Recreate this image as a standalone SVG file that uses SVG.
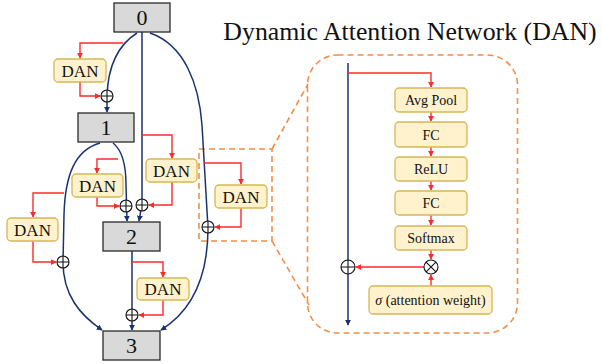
<svg xmlns="http://www.w3.org/2000/svg" width="602" height="364" viewBox="0 0 602 364">
  <style>
    text { font-family: "Liberation Serif", "Times New Roman", serif; fill: #111; text-anchor: middle; }
    .node rect { fill: #d9d9d9; stroke: #2a2a2a; stroke-width: 1.3; }
    .node text { font-size: 22px; }
    .dan rect { fill: #fff2cc; stroke: #d6b656; stroke-width: 1.3; }
    .dan text { font-size: 17px; }
    .blk rect { fill: #fff2cc; stroke: #d6b656; stroke-width: 1.3; }
    .blk text { font-size: 14px; }
    .main { fill: none; stroke: #1a3370; stroke-width: 1.5; }
    .att { fill: none; stroke: #ff2a2a; stroke-width: 1.4; }
    .op { fill: #fff; stroke: #111; stroke-width: 1.1; }
    .zoom { fill: none; stroke: #f0904a; stroke-width: 1.6; stroke-dasharray: 6 4; }
  </style>
  <defs>
    <marker id="arN" viewBox="0 0 8 8" refX="7" refY="4" markerWidth="6" markerHeight="6" orient="auto" markerUnits="userSpaceOnUse">
      <path d="M0,0 L8,4 L0,8 z" fill="#1a3370"/>
    </marker>
    <marker id="arR" viewBox="0 0 8 8" refX="7" refY="4" markerWidth="6" markerHeight="6" orient="auto" markerUnits="userSpaceOnUse">
      <path d="M0,0 L8,4 L0,8 z" fill="#ff2a2a"/>
    </marker>
    <g id="plus">
      <circle class="op" r="6"/>
      <path class="op" d="M-6,0 H6 M0,-6 V6"/>
    </g>
    <g id="plusL">
      <circle class="op" r="7"/>
      <path class="op" d="M-7,0 H7 M0,-7 V7"/>
    </g>
    <g id="times">
      <circle class="op" r="7"/>
      <path class="op" d="M-4.9,-4.9 L4.9,4.9 M-4.9,4.9 L4.9,-4.9"/>
    </g>
  </defs>

  <text x="410" y="40" style="font-size:25.8px">Dynamic Attention Network (DAN)</text>

  <!-- zoom-in outline -->
  <g id="zoom-outline">
    <rect class="zoom" x="199" y="149" width="73" height="92"/>
    <rect class="zoom" x="307.5" y="55" width="210" height="278" rx="30"/>
    <path class="zoom" d="M272,149 L308,84 M272,241 L309,305"/>
  </g>

  <!-- connectors -->
  <g id="connectors">
    <!-- backbone paths -->
    <path class="main" d="M137,33 C118,45 108,65 107,96 L107,112" marker-end="url(#arN)"/>
    <path class="main" d="M142,32 L142,204 L139,221" marker-end="url(#arN)"/>
    <path class="main" d="M150,33 C185,45 199,85 202,125 L208,228 C208,280 190,312 161,330" marker-end="url(#arN)"/>
    <path class="main" d="M100,143 C75,150 65,175 64,215 L63,262 C63,295 80,315 102,330" marker-end="url(#arN)"/>
    <path class="main" d="M113,143 C122,150 126,165 126,185 L127,221" marker-end="url(#arN)"/>
    <path class="main" d="M132,251 L132,330" marker-end="url(#arN)"/>

    <!-- attention branches -->
    <path class="att" d="M123,43 L80,43 L80,58" marker-end="url(#arR)"/>
    <path class="att" d="M80,82 L80,96 L100,96" marker-end="url(#arR)"/>
    <path class="att" d="M118,159 L97,159 L97,173" marker-end="url(#arR)"/>
    <path class="att" d="M97,197 L97,206 L119,206" marker-end="url(#arR)"/>
    <path class="att" d="M142,135 L172,135 L172,158" marker-end="url(#arR)"/>
    <path class="att" d="M172,182 L172,205 L149,205" marker-end="url(#arR)"/>
    <path class="att" d="M64,193 L33,193 L33,217" marker-end="url(#arR)"/>
    <path class="att" d="M33,241 L33,262 L56,262" marker-end="url(#arR)"/>
    <path class="att" d="M132,262 L163,262 L163,277" marker-end="url(#arR)"/>
    <path class="att" d="M163,300 L163,315 L139,315" marker-end="url(#arR)"/>
    <path class="att" d="M204,163 L241,163 L241,184" marker-end="url(#arR)"/>
    <path class="att" d="M241,208 L241,227 L215,227" marker-end="url(#arR)"/>

    <!-- DAN internals -->
    <path class="main" d="M348,63 L348,325" marker-end="url(#arN)"/>
    <path class="att" d="M348,73 L431,73 L431,87" marker-end="url(#arR)"/>
    <path class="att" d="M431,112 L431,121" marker-end="url(#arR)"/>
    <path class="att" d="M431,147 L431,156" marker-end="url(#arR)"/>
    <path class="att" d="M431,181 L431,190" marker-end="url(#arR)"/>
    <path class="att" d="M431,215 L431,225" marker-end="url(#arR)"/>
    <path class="att" d="M431,250 L431,259" marker-end="url(#arR)"/>
    <path class="att" d="M431,286 L431,275" marker-end="url(#arR)"/>
    <path class="att" d="M424,267 L356,267" marker-end="url(#arR)"/>

    <!-- merge operators -->
    <use href="#plus" x="107" y="96"/>
    <use href="#plus" x="126" y="206"/>
    <use href="#plus" x="142" y="205"/>
    <use href="#plus" x="63" y="262"/>
    <use href="#plus" x="132" y="315"/>
    <use href="#plus" x="208" y="227"/>
    <use href="#plusL" x="348" y="267"/>
    <use href="#times" x="431" y="267"/>
  </g>

  <!-- feature nodes -->
  <g id="node0" class="node"><rect x="114" y="3" width="56" height="29"/><text x="142" y="25">0</text></g>
  <g id="node1" class="node"><rect x="78" y="113" width="56" height="29"/><text x="106" y="135">1</text></g>
  <g id="node2" class="node"><rect x="103" y="222" width="57" height="29"/><text x="131.5" y="244">2</text></g>
  <g id="node3" class="node"><rect x="103" y="331" width="57" height="29"/><text x="131.5" y="353">3</text></g>

  <!-- attention modules -->
  <g id="dan1" class="dan"><rect x="54" y="59" width="52" height="23" rx="4"/><text x="80" y="76.5">DAN</text></g>
  <g id="dan2" class="dan"><rect x="72" y="174" width="51" height="23" rx="4"/><text x="97.5" y="191.5">DAN</text></g>
  <g id="dan3" class="dan"><rect x="146" y="159" width="51" height="23" rx="4"/><text x="171.5" y="176.5">DAN</text></g>
  <g id="dan4" class="dan"><rect x="7" y="218" width="51" height="23" rx="4"/><text x="32.5" y="235.5">DAN</text></g>
  <g id="dan5" class="dan"><rect x="137" y="278" width="52" height="22" rx="4"/><text x="163" y="295">DAN</text></g>
  <g id="dan6" class="dan"><rect x="215" y="185" width="52" height="23" rx="4"/><text x="241" y="202.5">DAN</text></g>

  <!-- DAN internal blocks -->
  <g id="avgpool" class="blk"><rect x="395" y="88" width="72" height="24" rx="4"/><text x="431" y="105">Avg Pool</text></g>
  <g id="fc1" class="blk"><rect x="395" y="122" width="72" height="25" rx="4"/><text x="431" y="139.5">FC</text></g>
  <g id="relu" class="blk"><rect x="395" y="157" width="72" height="24" rx="4"/><text x="431" y="174">ReLU</text></g>
  <g id="fc2" class="blk"><rect x="395" y="191" width="72" height="24" rx="4"/><text x="431" y="208">FC</text></g>
  <g id="softmax" class="blk"><rect x="395" y="226" width="72" height="24" rx="4"/><text x="431" y="243">Softmax</text></g>
  <g id="sigma" class="blk"><rect x="369" y="286" width="123" height="28" rx="4"/><text x="430.5" y="305"><tspan font-style="italic">σ</tspan> (attention weight)</text></g>
</svg>
